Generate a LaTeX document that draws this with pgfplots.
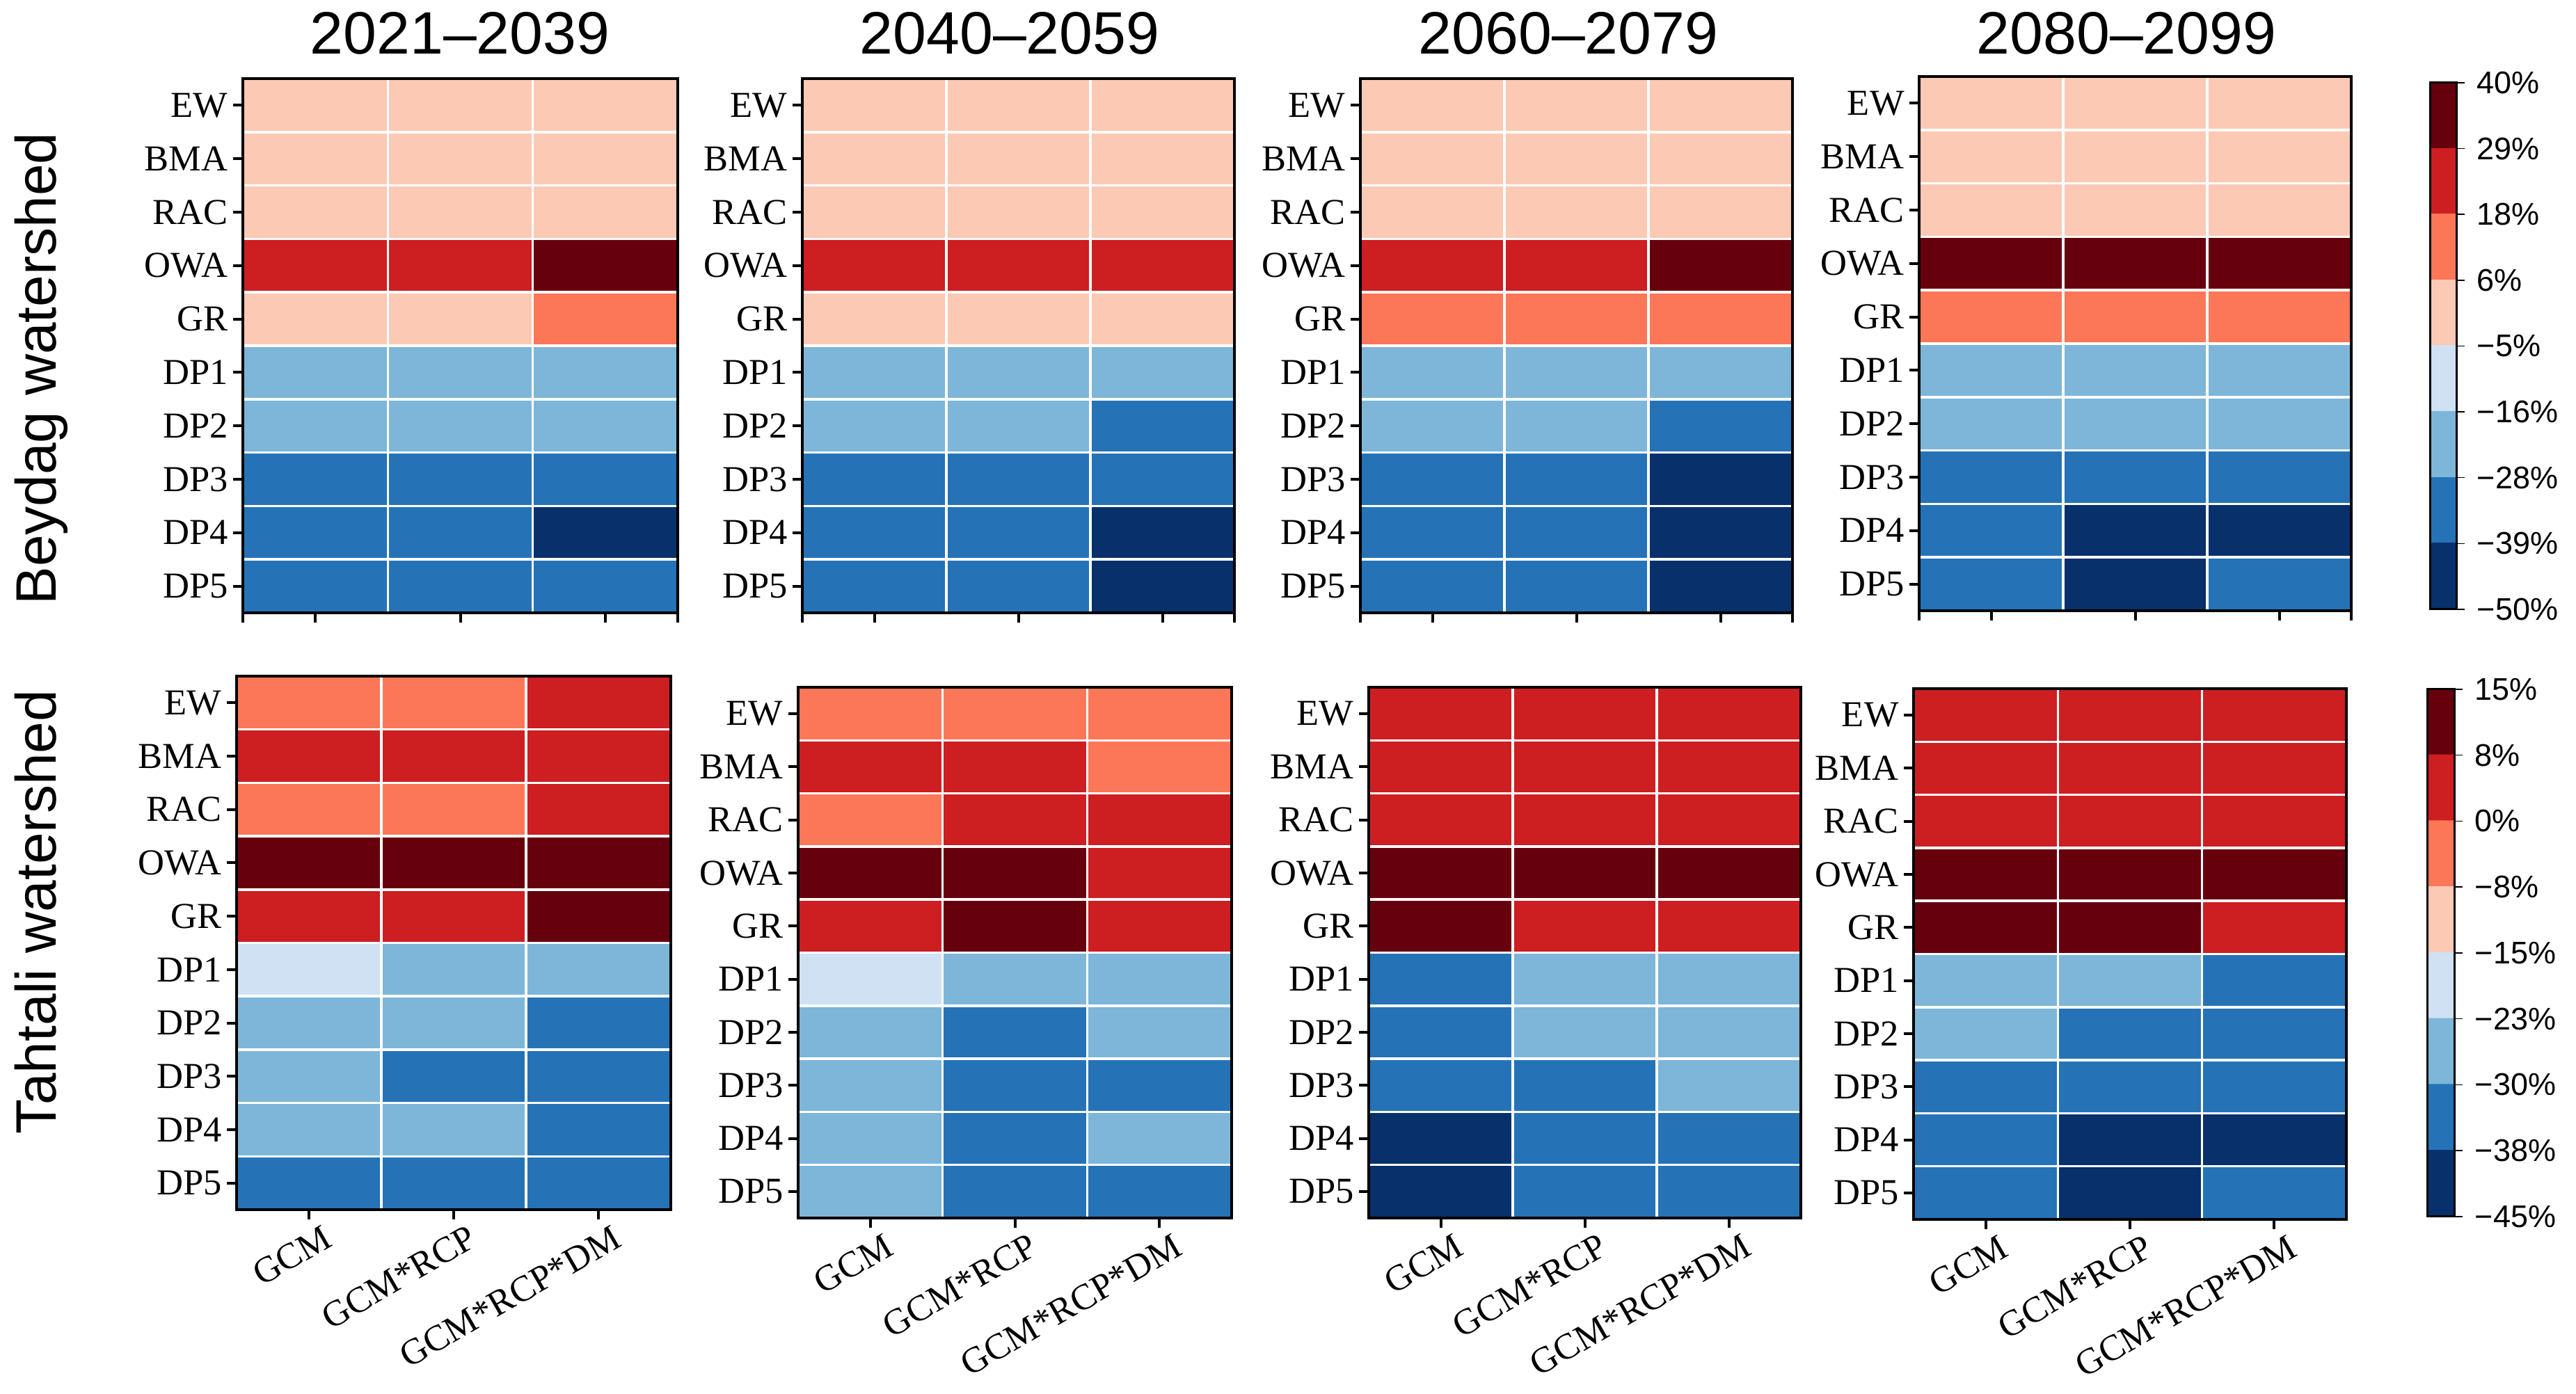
\documentclass[border=0pt]{standalone}
\usepackage{fontspec}
\setmainfont{Liberation Serif}
\newfontfamily\arial{Liberation Sans}
\usepackage{pgfplots}
\usepackage{pgfplotstable}
\pgfplotsset{compat=1.18}

\definecolor{c0}{HTML}{08306B}
\definecolor{c1}{HTML}{2573B6}
\definecolor{c2}{HTML}{7DB6D9}
\definecolor{c3}{HTML}{CFE1F2}
\definecolor{c4}{HTML}{FCC9B4}
\definecolor{c5}{HTML}{FB7757}
\definecolor{c6}{HTML}{CD1E22}
\definecolor{c7}{HTML}{67000D}

\pgfplotsset{
  colormap={rdbu8}{color(0)=(c0) color(1)=(c1) color(2)=(c2) color(3)=(c3) color(4)=(c4) color(5)=(c5) color(6)=(c6) color(7)=(c7) color(8)=(c7)},
  heat/.style={
    scale only axis, anchor=north west,
    xmin=-0.5, xmax=2.5, ymin=-0.5, ymax=9.5, y dir=reverse,
    enlargelimits=false,
    colormap name=rdbu8, colormap access=piecewise constant,
    axis on top,
    xtick={0,1,2}, ytick={0,...,9},
    yticklabels={EW,BMA,RAC,OWA,GR,DP1,DP2,DP3,DP4,DP5},
    xticklabels={,,},
    minor xtick={0.5,1.5}, minor ytick={0.5,1.5,...,8.5},
    grid=minor, minor grid style={white, line width=0.7pt},
    minor tick length=0pt,
    major tick length=2.8pt, tick align=outside,
    xtick pos=left, ytick pos=left,
    major tick style={black, line width=0.8pt},
    axis line style={black, line width=0.9pt},
    tick label style={font=\fontsize{10.5}{12}\selectfont, inner sep=1.3pt},
  },
  toprow/.style={heat, point meta min=-50, point meta max=40,
    extra x ticks={-0.5,2.5}, extra x tick labels={,}},
  botrow/.style={heat, point meta min=-45, point meta max=15,
    xticklabels={GCM,GCM*RCP,GCM*RCP*DM},
    xticklabel style={rotate=30, anchor=north east, xshift=4pt, yshift=-1.5pt}},
  cbar/.style={
    scale only axis, anchor=north west,
    xmin=-0.5, xmax=1.5, enlargelimits=false, y dir=reverse,
    colormap name=rdbu8, colormap access=piecewise constant,
    axis on top, xtick=\empty,
    ytick pos=right, yticklabel pos=right,
    tick align=outside, major tick length=2.4pt,
    major tick style={black, line width=0.3pt},
    axis line style={black, line width=0.6pt},
    tick label style={font=\arial\fontsize{9}{10}\selectfont},
  },
}

% Beydag watershed (change, %), rows EW..DP5 (y=0..9), columns GCM, GCM*RCP, GCM*RCP*DM (x=0..2)
\pgfplotstableread{
x y v
0 0 0
1 0 0
2 0 0
0 1 0
1 1 0
2 1 0
0 2 0
1 2 0
2 2 0
0 3 23
1 3 23
2 3 34
0 4 0
1 4 0
2 4 12
0 5 -22
1 5 -22
2 5 -22
0 6 -22
1 6 -22
2 6 -22
0 7 -33
1 7 -33
2 7 -33
0 8 -33
1 8 -33
2 8 -44
0 9 -33
1 9 -33
2 9 -33
}\Aone
\pgfplotstableread{
x y v
0 0 0
1 0 0
2 0 0
0 1 0
1 1 0
2 1 0
0 2 0
1 2 0
2 2 0
0 3 23
1 3 23
2 3 23
0 4 0
1 4 0
2 4 0
0 5 -22
1 5 -22
2 5 -22
0 6 -22
1 6 -22
2 6 -33
0 7 -33
1 7 -33
2 7 -33
0 8 -33
1 8 -33
2 8 -44
0 9 -33
1 9 -33
2 9 -44
}\Atwo
\pgfplotstableread{
x y v
0 0 0
1 0 0
2 0 0
0 1 0
1 1 0
2 1 0
0 2 0
1 2 0
2 2 0
0 3 23
1 3 23
2 3 34
0 4 12
1 4 12
2 4 12
0 5 -22
1 5 -22
2 5 -22
0 6 -22
1 6 -22
2 6 -33
0 7 -33
1 7 -33
2 7 -44
0 8 -33
1 8 -33
2 8 -44
0 9 -33
1 9 -33
2 9 -44
}\Athree
\pgfplotstableread{
x y v
0 0 0
1 0 0
2 0 0
0 1 0
1 1 0
2 1 0
0 2 0
1 2 0
2 2 0
0 3 34
1 3 34
2 3 34
0 4 12
1 4 12
2 4 12
0 5 -22
1 5 -22
2 5 -22
0 6 -22
1 6 -22
2 6 -22
0 7 -33
1 7 -33
2 7 -33
0 8 -33
1 8 -44
2 8 -44
0 9 -33
1 9 -44
2 9 -33
}\Afour
% Tahtali watershed
\pgfplotstableread{
x y v
0 0 -4
1 0 -4
2 0 4
0 1 4
1 1 4
2 1 4
0 2 -4
1 2 -4
2 2 4
0 3 11
1 3 11
2 3 11
0 4 4
1 4 4
2 4 11
0 5 -19
1 5 -26
2 5 -26
0 6 -26
1 6 -26
2 6 -34
0 7 -26
1 7 -34
2 7 -34
0 8 -26
1 8 -26
2 8 -34
0 9 -34
1 9 -34
2 9 -34
}\Bone
\pgfplotstableread{
x y v
0 0 -4
1 0 -4
2 0 -4
0 1 4
1 1 4
2 1 -4
0 2 -4
1 2 4
2 2 4
0 3 11
1 3 11
2 3 4
0 4 4
1 4 11
2 4 4
0 5 -19
1 5 -26
2 5 -26
0 6 -26
1 6 -34
2 6 -26
0 7 -26
1 7 -34
2 7 -34
0 8 -26
1 8 -34
2 8 -26
0 9 -26
1 9 -34
2 9 -34
}\Btwo
\pgfplotstableread{
x y v
0 0 4
1 0 4
2 0 4
0 1 4
1 1 4
2 1 4
0 2 4
1 2 4
2 2 4
0 3 11
1 3 11
2 3 11
0 4 11
1 4 4
2 4 4
0 5 -34
1 5 -26
2 5 -26
0 6 -34
1 6 -26
2 6 -26
0 7 -34
1 7 -34
2 7 -26
0 8 -41
1 8 -34
2 8 -34
0 9 -41
1 9 -34
2 9 -34
}\Bthree
\pgfplotstableread{
x y v
0 0 4
1 0 4
2 0 4
0 1 4
1 1 4
2 1 4
0 2 4
1 2 4
2 2 4
0 3 11
1 3 11
2 3 11
0 4 11
1 4 11
2 4 4
0 5 -26
1 5 -26
2 5 -34
0 6 -26
1 6 -34
2 6 -34
0 7 -34
1 7 -34
2 7 -34
0 8 -34
1 8 -41
2 8 -41
0 9 -34
1 9 -41
2 9 -34
}\Bfour
% colour bar bands: y = position (top = -40, i.e. 40%), v = class centre
\pgfplotstableread{
x y v
0 -34.375 34.375
1 -34.375 34.375
0 -23.125 23.125
1 -23.125 23.125
0 -11.875 11.875
1 -11.875 11.875
0 -0.625 0.625
1 -0.625 0.625
0 10.625 -10.625
1 10.625 -10.625
0 21.875 -21.875
1 21.875 -21.875
0 33.125 -33.125
1 33.125 -33.125
0 44.375 -44.375
1 44.375 -44.375
}\CBtop
\pgfplotstableread{
x y v
0 -11.25 11.25
1 -11.25 11.25
0 -3.75 3.75
1 -3.75 3.75
0 3.75 -3.75
1 3.75 -3.75
0 11.25 -11.25
1 11.25 -11.25
0 18.75 -18.75
1 18.75 -18.75
0 26.25 -26.25
1 26.25 -26.25
0 33.75 -33.75
1 33.75 -33.75
0 41.25 -41.25
1 41.25 -41.25
}\CBbot

\begin{document}
\begin{tikzpicture}
\useasboundingbox (0pt,0pt) rectangle (740.4pt,400.8pt);

% ---- top row: Beydag ----
\begin{axis}[toprow, at={(69.8pt,378.2pt)}, width=125pt, height=153.6pt]
\addplot[matrix plot, mesh/cols=3, point meta=explicit] table[meta=v] {\Aone};
\end{axis}
\begin{axis}[toprow, at={(230.6pt,378.2pt)}, width=124.2pt, height=153.6pt]
\addplot[matrix plot, mesh/cols=3, point meta=explicit] table[meta=v] {\Atwo};
\end{axis}
\begin{axis}[toprow, at={(391pt,378.2pt)}, width=124.2pt, height=153.6pt]
\addplot[matrix plot, mesh/cols=3, point meta=explicit] table[meta=v] {\Athree};
\end{axis}
\begin{axis}[toprow, at={(551.6pt,378.8pt)}, width=124.2pt, height=153.6pt]
\addplot[matrix plot, mesh/cols=3, point meta=explicit] table[meta=v] {\Afour};
\end{axis}

% ---- bottom row: Tahtali ----
\begin{axis}[botrow, at={(68pt,206.4pt)}, width=124.8pt, height=153.4pt]
\addplot[matrix plot, mesh/cols=3, point meta=explicit] table[meta=v] {\Bone};
\end{axis}
\begin{axis}[botrow, at={(229.4pt,203.2pt)}, width=124.6pt, height=152.6pt]
\addplot[matrix plot, mesh/cols=3, point meta=explicit] table[meta=v] {\Btwo};
\end{axis}
\begin{axis}[botrow, at={(393.4pt,203.2pt)}, width=124.2pt, height=152.6pt]
\addplot[matrix plot, mesh/cols=3, point meta=explicit] table[meta=v] {\Bthree};
\end{axis}
\begin{axis}[botrow, at={(550pt,202.8pt)}, width=124.4pt, height=152.6pt]
\addplot[matrix plot, mesh/cols=3, point meta=explicit] table[meta=v] {\Bfour};
\end{axis}

% ---- colour bars ----
\begin{axis}[cbar, at={(698.4pt,377pt)}, width=7.6pt, height=151.4pt,
  ymin=-40, ymax=50, point meta min=-50, point meta max=40,
  ytick={-40,-28.75,-17.5,-6.25,5,16.25,27.5,38.75,50},
  yticklabels={40\%,29\%,18\%,6\%,−5\%,−16\%,−28\%,−39\%,−50\%}]
\addplot[matrix plot, mesh/cols=2, point meta=explicit] table[meta=v] {\CBtop};
\end{axis}
\begin{axis}[cbar, at={(697.6pt,202.6pt)}, width=7.8pt, height=151.6pt,
  ymin=-15, ymax=45, point meta min=-45, point meta max=15,
  ytick={-15,-7.5,0,7.5,15,22.5,30,37.5,45},
  yticklabels={15\%,8\%,0\%,−8\%,−15\%,−23\%,−30\%,−38\%,−45\%}]
\addplot[matrix plot, mesh/cols=2, point meta=explicit] table[meta=v] {\CBbot};
\end{axis}

% ---- titles and row labels ----
\begin{scope}[every node/.style={font=\arial\fontsize{17.2}{19}\selectfont}]
\node[anchor=base] at (132.2pt,385.2pt) {2021–2039};
\node[anchor=base] at (290.2pt,385.2pt) {2040–2059};
\node[anchor=base] at (450.8pt,385.2pt) {2060–2079};
\node[anchor=base] at (611.2pt,385.2pt) {2080–2099};
\end{scope}
\begin{scope}[every node/.style={font=\arial\fontsize{16.4}{18}\selectfont}]
\node[anchor=base, rotate=90] at (16pt,294.8pt) {Beydag watershed};
\node[anchor=base, rotate=90] at (16pt,138.6pt) {Tahtali watershed};
\end{scope}
\end{tikzpicture}
\end{document}
